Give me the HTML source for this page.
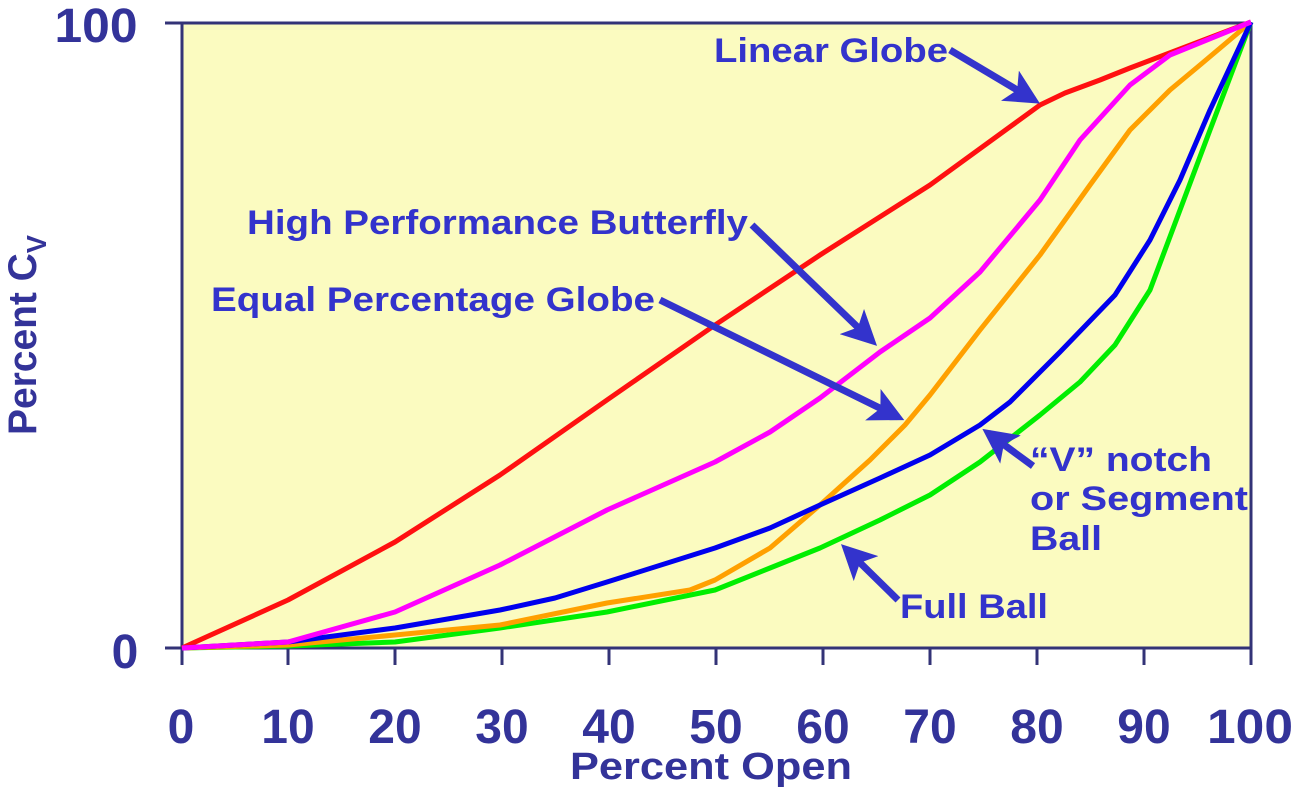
<!DOCTYPE html>
<html><head><style>
html,body{margin:0;padding:0;background:#fff;}
svg{display:block;}
text{font-family:"Liberation Sans",Arial,sans-serif;font-weight:bold;}
</style></head><body>
<svg width="1299" height="789" viewBox="0 0 1299 789" xmlns="http://www.w3.org/2000/svg">
<defs>
<marker id="ah" markerWidth="5" markerHeight="5" refX="4" refY="2.5" orient="auto" markerUnits="strokeWidth">
<path d="M0,0 L5,2.5 L0,5 L1.2,2.5 Z" fill="#3333cc"/>
</marker>
</defs>
<rect x="182" y="23" width="1069" height="625" fill="#fbfbc0"/>
<g stroke="#333377" stroke-width="3" fill="none">
<line x1="165" y1="23" x2="1251" y2="23"/>
<line x1="165" y1="648" x2="1251" y2="648"/>
<line x1="182" y1="23" x2="182" y2="665"/>
<line x1="1251" y1="23" x2="1251" y2="665"/>
<line x1="288" y1="648" x2="288" y2="665"/><line x1="395" y1="648" x2="395" y2="665"/>
<line x1="502" y1="648" x2="502" y2="665"/><line x1="609" y1="648" x2="609" y2="665"/>
<line x1="716" y1="648" x2="716" y2="665"/><line x1="823" y1="648" x2="823" y2="665"/>
<line x1="930" y1="648" x2="930" y2="665"/><line x1="1037" y1="648" x2="1037" y2="665"/>
<line x1="1144" y1="648" x2="1144" y2="665"/>
</g>
<g fill="none" stroke-width="5" stroke-linejoin="round">
<polyline stroke="#ff1010" points="182,648 288,600 395,542 500,475 607,400 715,325 820,255 930,185 1040,105 1065,93 1100,80 1130,68 1251,22"/>
<polyline stroke="#00ee00" points="182,648 288,646 395,642 500,628 607,612 715,590 770,568 820,548 880,520 930,495 980,462 1040,415 1080,382 1115,345 1150,290 1180,210 1210,130 1251,22"/>
<polyline stroke="#ffa000" points="182,648 288,645 395,635 500,625 607,603 690,590 715,580 770,548 820,505 870,460 905,425 930,395 980,330 1040,255 1090,185 1130,130 1170,90 1200,65 1251,22"/>
<polyline stroke="#0000ee" points="182,648 288,642 395,628 500,610 555,598 607,582 715,548 770,528 820,505 880,478 930,455 980,425 1010,402 1060,352 1115,295 1150,240 1180,180 1210,110 1251,22"/>
<polyline stroke="#ff00ff" points="182,648 288,642 395,612 500,565 607,510 715,462 770,432 820,398 880,352 930,318 980,272 1040,200 1080,140 1130,85 1170,55 1251,22"/>
</g>
<g stroke="#3333cc" stroke-width="7" marker-end="url(#ah)">
<line x1="950" y1="50" x2="1034" y2="100"/>
<line x1="752" y1="225" x2="872" y2="341"/>
<line x1="660" y1="300" x2="898" y2="417"/>
<line x1="1033" y1="466" x2="988" y2="433"/>
<line x1="898" y1="600" x2="846" y2="549"/>
</g>
<g fill="#333399" font-size="48" text-anchor="middle">
<text x="96" y="42" textLength="83" lengthAdjust="spacingAndGlyphs">100</text>
<text x="125" y="668">0</text>
<text x="181" y="743">0</text><text x="288" y="743">10</text><text x="395" y="743">20</text>
<text x="502" y="743">30</text><text x="609" y="743">40</text><text x="716" y="743">50</text>
<text x="823" y="743">60</text><text x="930" y="743">70</text><text x="1037" y="743">80</text>
<text x="1144" y="743">90</text><text x="1250" y="743" textLength="86" lengthAdjust="spacingAndGlyphs">100</text>
</g>
<text x="570" y="779" fill="#333399" font-size="38" textLength="282" lengthAdjust="spacingAndGlyphs">Percent Open</text>
<text transform="translate(36,435) rotate(-90)" fill="#333399" font-size="40" textLength="200" lengthAdjust="spacingAndGlyphs">Percent C<tspan font-size="28" dy="10">V</tspan></text>
<g fill="#3333cc" font-size="34">
<text x="714" y="62" textLength="234" lengthAdjust="spacingAndGlyphs">Linear Globe</text>
<text x="247" y="234" textLength="501" lengthAdjust="spacingAndGlyphs">High Performance Butterfly</text>
<text x="211" y="311" textLength="444" lengthAdjust="spacingAndGlyphs">Equal Percentage Globe</text>
<text x="1030" y="471" textLength="182" lengthAdjust="spacingAndGlyphs">“V” notch</text>
<text x="1030" y="510" textLength="218" lengthAdjust="spacingAndGlyphs">or Segment</text>
<text x="1030" y="550" textLength="72" lengthAdjust="spacingAndGlyphs">Ball</text>
<text x="900" y="618" textLength="148" lengthAdjust="spacingAndGlyphs">Full Ball</text>
</g>
</svg>
</body></html>
